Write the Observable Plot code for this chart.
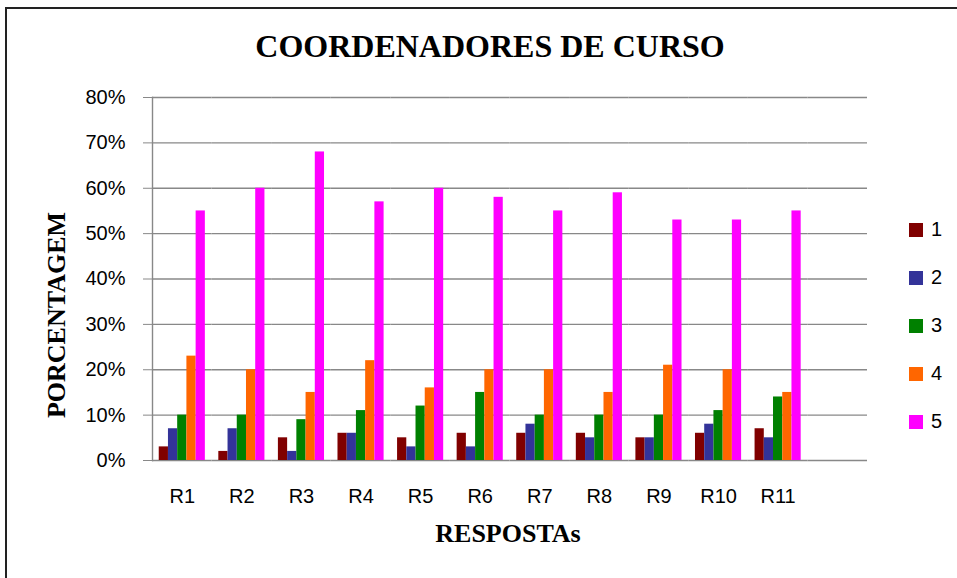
<!DOCTYPE html>
<html>
<head>
<meta charset="utf-8">
<script src="https://cdn.jsdelivr.net/npm/d3@7"></script>
<script src="https://cdn.jsdelivr.net/npm/@observablehq/plot@0.6"></script>
<style>
  html, body { margin: 0; padding: 0; background: #fff; }
  #wrap { position: relative; width: 957px; height: 578px; overflow: hidden; background: #fff; }
  #border { position: absolute; left: 5px; top: 7px; width: 1100px; height: 1100px; border: 2px solid #222; box-sizing: border-box; }
  #chart { position: absolute; left: 0; top: 0; }
  .title { position: absolute; left: 0; width: 980px; top: 28px; text-align: center; font-family: "Liberation Serif", serif; font-weight: bold; font-size: 32px; color: #000; }
  .xlab { position: absolute; left: 0; width: 1016px; top: 519px; text-align: center; font-family: "Liberation Serif", serif; font-weight: bold; font-size: 26px; color: #000; }
  .ylab { position: absolute; left: 57px; top: 315px; transform: translate(-50%, -50%) rotate(-90deg); white-space: nowrap; font-family: "Liberation Serif", serif; font-weight: bold; font-size: 26px; color: #000; }
  .leg { position: absolute; left: 909px; font-family: "Liberation Sans", Arial, sans-serif; font-size: 20px; color: #000; display: flex; align-items: center; }
  .leg span.sw { display: inline-block; width: 14px; height: 14px; margin-right: 8px; }
</style>
</head>
<body>
<div id="wrap">
  <div id="border"></div>
  <div id="chart"></div>
  <div class="title">COORDENADORES DE CURSO</div>
  <div class="ylab">PORCENTAGEM</div>
  <div class="xlab">RESPOSTAs</div>
</div>
<script>
const categories = ["R1","R2","R3","R4","R5","R6","R7","R8","R9","R10","R11"];
const series = ["1","2","3","4","5"];
const colors = ["#800000","#333399","#008000","#FF6600","#FF00FF"];
const s1 = [3,2,5,6,5,6,6,6,5,6,7];
const s2 = [7,7,2,6,3,3,8,5,5,8,5];
const s3 = [10,10,9,11,12,15,10,10,10,11,14];
const s4 = [23,20,15,22,16,20,20,15,21,20,15];
const s5 = [55,60,68,57,60,58,55,59,53,53,55];
const yTicks = [0,10,20,30,40,50,60,70,80];

const values = [s1, s2, s3, s4, s5];
const data = categories.flatMap((c, i) => series.map((s, j) => ({cat: c, ser: s, value: values[j][i]})));
const fxDomain = [...categories, " "];
const gridData = fxDomain.flatMap(c => yTicks.map(v => ({cat: c, v})));

const chart = Plot.plot({
  width: 957,
  height: 578,
  marginLeft: 152,
  marginRight: 90,
  marginTop: 97,
  marginBottom: 118,
  style: {fontFamily: "'Liberation Sans', Arial, sans-serif", color: "#000", background: "transparent"},
  fx: {domain: fxDomain, padding: 0, round: false, label: null},
  x: {domain: series, paddingInner: 0, paddingOuter: 0.73, round: false, axis: null},
  y: {domain: [0, 80], label: null},
  color: {domain: series, range: colors},
  marks: [
    Plot.ruleY(gridData, {fx: "cat", y: "v", stroke: "#888", strokeWidth: 1.4}),
    Plot.axisY(yTicks, {tickFormat: d => d + "%", tickSize: 9, tickPadding: 18, fontSize: 20, stroke: "#888", label: null}),
    Plot.frame({anchor: "left", facetAnchor: "left", stroke: "#888", strokeWidth: 1.4}),
    Plot.barY(data, {fx: "cat", x: "ser", y: "value", fill: "ser"}),
    Plot.axisFx({anchor: "bottom", tickSize: 0, tickPadding: 28, fontSize: 20, label: null})
  ]
});
document.getElementById("chart").appendChild(chart);

const wrap = document.getElementById("wrap");
series.forEach((s, i) => {
  const d = document.createElement("div");
  d.className = "leg";
  d.style.top = (218 + i * 48) + "px";
  d.innerHTML = `<span class="sw" style="background:${colors[i]}"></span><span>${s}</span>`;
  wrap.appendChild(d);
});
</script>
</body>
</html>
